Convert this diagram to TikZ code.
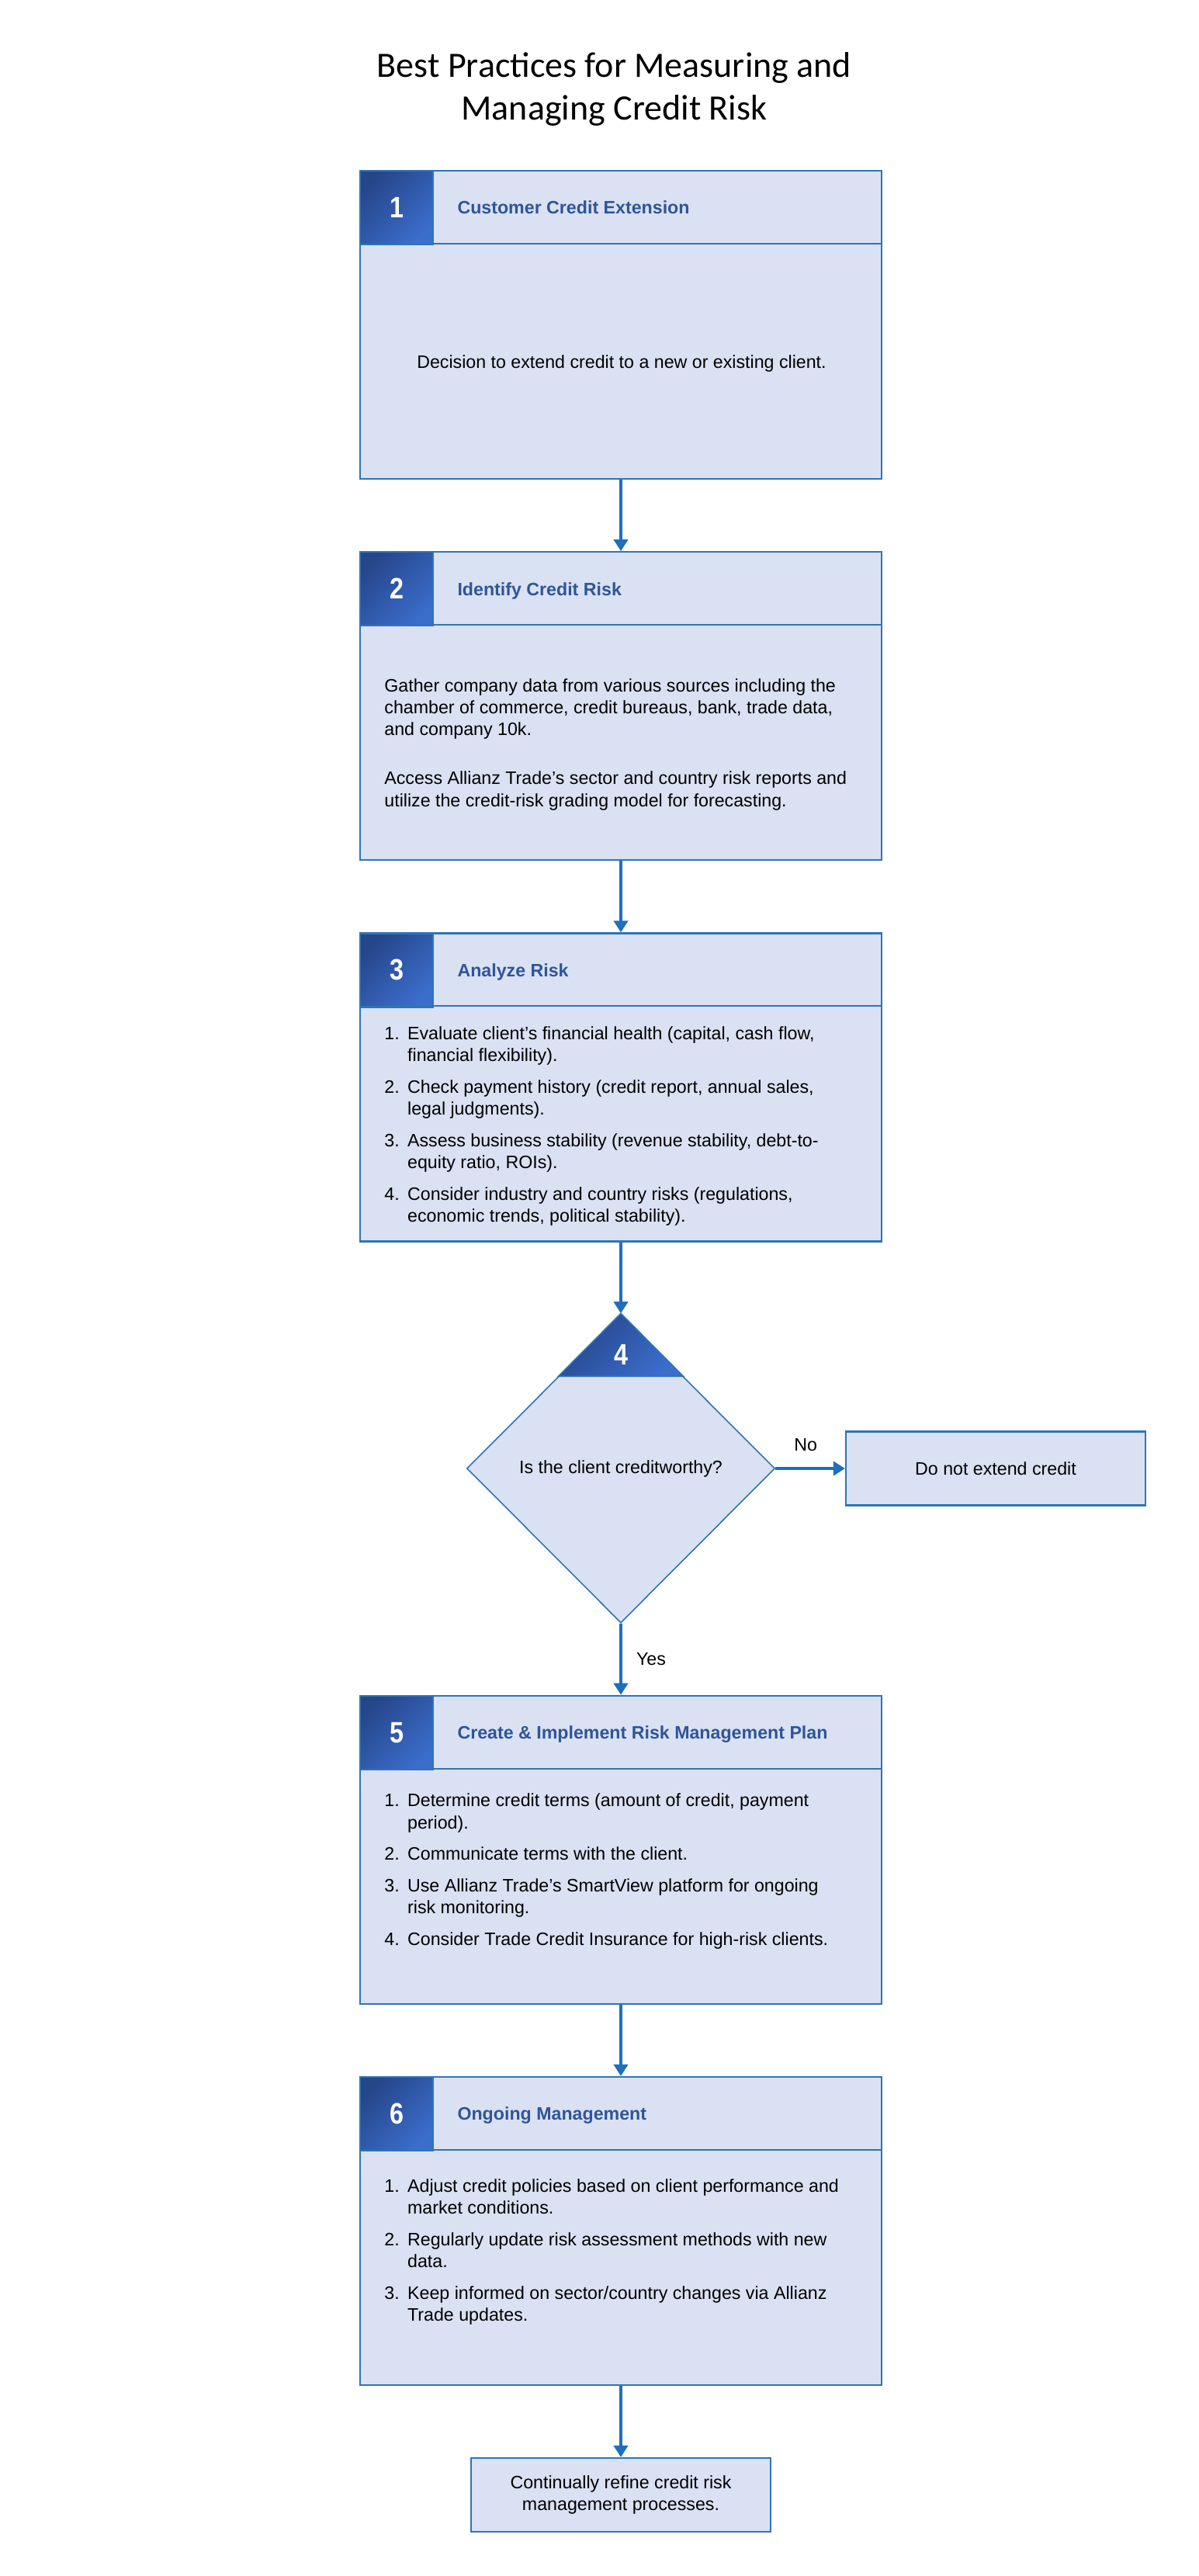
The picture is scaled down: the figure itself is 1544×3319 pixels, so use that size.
\documentclass[tikz,border=0pt]{standalone}
\usepackage{fontspec}
\setmainfont{Liberation Sans}
\newfontfamily\titlefont{Carlito}
\usepackage{graphicx}
\usetikzlibrary{positioning, shapes.geometric, arrows.meta}

\definecolor{boxfill}{HTML}{DAE1F3}
\definecolor{lineblue}{HTML}{2E75B6}
\definecolor{arrowblue}{HTML}{1F6FBA}
\definecolor{headblue}{HTML}{2F5597}
\definecolor{badgedark}{HTML}{26468A}
\definecolor{badgelight}{HTML}{3B6DCB}

\newcommand\bodyfont{\fontsize{11.6pt}{14.15pt}\selectfont}
\newcommand\digit[1]{\scalebox{0.85}[1]{#1}}

\tikzset{
  stepbox/.style={draw=lineblue, line width=1.1pt, fill=boxfill, minimum width=336pt, minimum height=198.5pt, inner sep=0pt},
  badge/.style={draw=lineblue, line width=1.1pt, top color=badgedark, bottom color=badgelight, shading angle=45, minimum width=47pt, minimum height=47.5pt, inner sep=0pt, text=white, font=\fontsize{19pt}{19pt}\selectfont\bfseries},
  headtext/.style={text=headblue, font=\fontsize{11.6pt}{14pt}\selectfont\bfseries, inner sep=0pt, text height=8.3pt, text depth=0pt},
  bodytext/.style={font=\bodyfont, inner sep=0pt},
  decision/.style={diamond, draw=lineblue, line width=0.8pt, fill=boxfill, minimum width=198.5pt, minimum height=199pt, inner sep=0pt, font=\bodyfont},
  endbox/.style={draw=lineblue, line width=1.1pt, fill=boxfill, minimum width=193pt, minimum height=47.5pt, inner sep=0pt, font=\bodyfont, align=center},
  flow/.style={draw=arrowblue, line width=2pt, -{Triangle[length=7.5pt, width=9pt]}},
  headline/.style={draw=lineblue, line width=1.1pt}
}

\begin{document}
\begin{tikzpicture}[x=0.5pt, y=-0.5pt]
  \fill[white] (0,0) rectangle (1544,3319);
  \node[font=\titlefont\fontsize{23pt}{27.5pt}\selectfont, inner sep=0pt, anchor=base] (title) at (791.5,99)
    {\begin{tabular}[t]{@{}c@{}}Best Practices for Measuring and\\ Managing Credit Risk\end{tabular}};

  % the steps
  \node[stepbox] (s1) at (800,418.5) {};
  \node[stepbox] (s2) at (800,909.7) {};
  \node[stepbox] (s3) at (800,1400.9) {};
  \node[decision] (d4) at (800,1892) {Is the client creditworthy?};
  \node[stepbox] (s5) at (800,2383.3) {};
  \node[stepbox] (s6) at (800,2874.5) {};
  \node[endbox] (stop) at (1283,1892) {Do not extend credit};
  \node[endbox] (fin) at (800,3214.5) {Continually refine credit risk\\ management processes.};

  % header bars and numbers
  \foreach \s in {s1,s2,s3,s5,s6}
    \draw[headline] ([yshift=-47.5pt]\s.north west) -- ([yshift=-47.5pt]\s.north east);
  \node[badge, anchor=north west] (n1) at (s1.north west) {\digit{1}};
  \node[badge, anchor=north west] (n2) at (s2.north west) {\digit{2}};
  \node[badge, anchor=north west] (n3) at (s3.north west) {\digit{3}};
  \node[badge, anchor=north west] (n5) at (s5.north west) {\digit{5}};
  \node[badge, anchor=north west] (n6) at (s6.north west) {\digit{6}};
  \draw[lineblue, line width=0.8pt, top color=badgedark, bottom color=badgelight, shading angle=45]
    (d4.north) -- ++(-80.5,81) -- ++(161,0) -- cycle;
  \node[text=white, font=\fontsize{19pt}{19pt}\selectfont\bfseries, inner sep=0pt] (n4) at (800,1745) {\digit{4}};

  \node[headtext, right=15pt of n1] (h1) {Customer Credit Extension};
  \node[headtext, right=15pt of n2] (h2) {Identify Credit Risk};
  \node[headtext, right=15pt of n3] (h3) {Analyze Risk};
  \node[headtext, right=15pt of n5] (h5) {Create \& Implement Risk Management Plan};
  \node[headtext, right=15pt of n6] (h6) {Ongoing Management};

  % box texts
  \node[bodytext] (t1) at (801,468) {Decision to extend credit to a new or existing client.};
  \node[bodytext, anchor=base west] (t2) at (495,891) {\begin{tabular}[t]{@{}l@{}}
    Gather company data from various sources including the\\
    chamber of commerce, credit bureaus, bank, trade data,\\
    and company 10k.\\[17.5pt]
    Access Allianz Trade's sector and country risk reports and\\
    utilize the credit-risk grading model for forecasting.
  \end{tabular}};
  \node[bodytext, anchor=base west] (t3) at (495,1339.3) {\begin{tabular}[t]{@{}l@{\hspace{5.2pt}}l@{}}
    1. & Evaluate client’s financial health (capital, cash flow,\\
       & financial flexibility).\\[6.2pt]
    2. & Check payment history (credit report, annual sales,\\
       & legal judgments).\\[6.2pt]
    3. & Assess business stability (revenue stability, debt-to-\\
       & equity ratio, ROIs).\\[6.2pt]
    4. & Consider industry and country risks (regulations,\\
       & economic trends, political stability).
  \end{tabular}};
  \node[bodytext, anchor=base west] (t5) at (495,2327.7) {\begin{tabular}[t]{@{}l@{\hspace{5.2pt}}l@{}}
    1. & Determine credit terms (amount of credit, payment\\
       & period).\\[6.2pt]
    2. & Communicate terms with the client.\\[6.2pt]
    3. & Use Allianz Trade's SmartView platform for ongoing\\
       & risk monitoring.\\[6.2pt]
    4. & Consider Trade Credit Insurance for high-risk clients.
  \end{tabular}};
  \node[bodytext, anchor=base west] (t6) at (495,2824.3) {\begin{tabular}[t]{@{}l@{\hspace{5.2pt}}l@{}}
    1. & Adjust credit policies based on client performance and\\
       & market conditions.\\[6.2pt]
    2. & Regularly update risk assessment methods with new\\
       & data.\\[6.2pt]
    3. & Keep informed on sector/country changes via Allianz\\
       & Trade updates.
  \end{tabular}};

  % connectors
  \draw[flow] (s1) -- (s2);
  \draw[flow] (s2) -- (s3);
  \draw[flow] (s3) -- (d4);
  \draw[flow] (d4) -- node[bodytext, right=9pt] (yes) {Yes} (s5);
  \draw[flow] (d4) -- node[bodytext, above=10pt, xshift=-3pt] (no) {No} (stop);
  \draw[flow] (s5) -- (s6);
  \draw[flow] (s6) -- (fin);
\end{tikzpicture}
\end{document}
